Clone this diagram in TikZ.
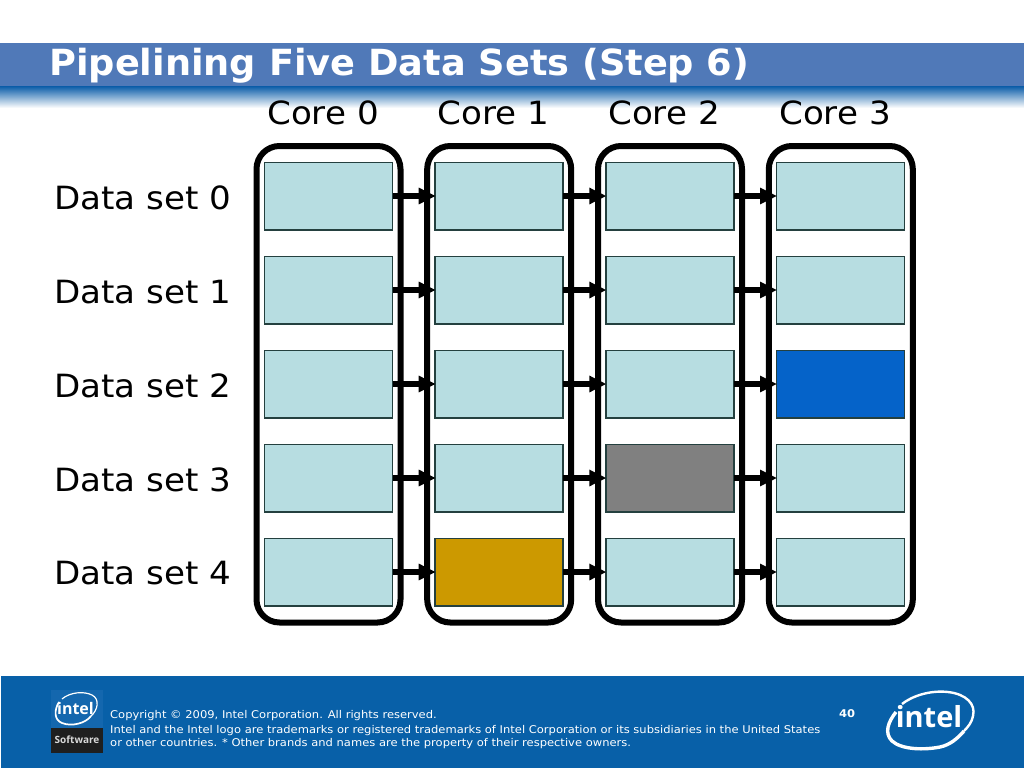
\documentclass[tikz,border=0pt]{standalone}
\usepackage{fontspec}
\setmainfont[FakeStretch=1.066]{DejaVu Sans}
\newfontfamily\titlefont[FakeStretch=1.02]{DejaVu Sans}
\newfontfamily\smallfont[FakeStretch=1.08]{DejaVu Sans}
\newfontfamily\logofont{Open Sans}
\usetikzlibrary{arrows.meta,calc}
\definecolor{hdr}{HTML}{5079B8}
\definecolor{hdrdark}{HTML}{0A5CA8}
\definecolor{foot}{HTML}{0860A8}
\definecolor{cell}{HTML}{B7DDE1}
\definecolor{cellblue}{HTML}{0563C9}
\definecolor{cellgray}{HTML}{808080}
\definecolor{cellgold}{HTML}{CC9900}
\definecolor{cellline}{HTML}{24403F}
\definecolor{softblue}{HTML}{1467AE}
\tikzset{
  x=1pt,y=-1pt,
  cellbox/.style={draw=cellline,line width=1.5pt,fill=cell,minimum width=128pt,minimum height=67.5pt,inner sep=0pt,outer sep=0pt},
  coreframe/.style={draw=black,line width=6pt,rounded corners=23pt},
  flow/.style={line width=5.5pt,yshift=-0.6pt,-{Triangle[length=17pt,width=15.5pt]},shorten >=-0.5pt},
  corelabel/.style={font=\fontsize{32}{32}\selectfont,anchor=base,inner sep=0pt},
  rowlabel/.style={font=\fontsize{32}{32}\selectfont,anchor=base west,inner sep=0pt},
  smalltext/.style={font=\smallfont\fontsize{10.67}{10.67}\selectfont,text=white,anchor=base west,inner sep=0pt},
}
\begin{document}
\begin{tikzpicture}
\useasboundingbox (0,0) rectangle (1024,768);
\fill[white] (0,0) rectangle (1024,768);
% header
\fill[hdr] (0,43) rectangle (1024,86);
\shade[top color=hdrdark,bottom color=white] (0,86) rectangle (1024,108);
\node[font=\titlefont\fontsize{36}{36}\selectfont\bfseries,text=white,anchor=base west,inner sep=0pt] (title) at (49,75) {Pipelining Five Data Sets (Step 6)};
% core frames
\foreach \i/\xl in {0/256.5,1/427.2,2/598,3/768.8}{
  \draw[coreframe] (\xl,146) rectangle (\xl+144,622.5) ;
}
% core labels
\node[corelabel] (c0) at (323,124) {Core 0};
\node[corelabel] (c1) at (493.5,124) {Core 1};
\node[corelabel] (c2) at (664,124) {Core 2};
\node[corelabel] (c3) at (835,124) {Core 3};
% row labels
\foreach \j/\yb in {0/209,1/303,2/397,3/491,4/584}{
  \node[rowlabel] (d\j) at (54,\yb) {Data set \j};
}
% cells
\foreach \i/\xc in {0/328.5,1/499.2,2/669.9,3/840.6}{
  \foreach \j/\yc in {0/196,1/290,2/384,3/478,4/572}{
    \node[cellbox] (b\i\j) at (\xc,\yc) {};
  }
}
\node[cellbox,fill=cellblue] at (b32) {};
\node[cellbox,fill=cellgray] at (b23) {};
\node[cellbox,fill=cellgold] at (b14) {};
% arrows
\foreach \j in {0,...,4}{
  \draw[flow] (b0\j.east) -- (b1\j.west);
  \draw[flow] (b1\j.east) -- (b2\j.west);
  \draw[flow] (b2\j.east) -- (b3\j.west);
}
% footer
\fill[foot] (1,676) rectangle (1024,768);
\node[smalltext] (l1) at (110,718) {Copyright © 2009, Intel Corporation. All rights reserved.};
\node[smalltext] (l2) at (110,733) {Intel and the Intel logo are trademarks or registered trademarks of Intel Corporation or its subsidiaries in the United States};
\node[smalltext] (l3) at (110,746) {or other countries. * Other brands and names are the property of their respective owners.};
\node[smalltext,font=\smallfont\fontsize{10.67}{10.67}\selectfont\bfseries] (pg) at (839,717) {40};
% software logo
\fill[softblue] (51,690) rectangle (103,728);
\fill[black!88] (51,728) rectangle (103,753);
\node[font=\logofont\fontsize{16}{16}\selectfont\bfseries,text=white,inner sep=0pt] (slogo) at (75.5,708) {intel};
\draw[white,line width=1.2pt] (62,699) .. controls (70,692) and (84,691) .. (92,695) .. controls (100,699) and (98,710) .. (91,716);
\draw[white,line width=1.7pt] (59,702) .. controls (54,710) and (54,720) .. (62,723) .. controls (72,727) and (86,723) .. (91,716);
\node[font=\logofont\fontsize{10}{10}\selectfont\bfseries,text=white!85!black,inner sep=0pt] (soft) at (77,740) {Software};
% intel logo
\node[font=\logofont\fontsize{29}{29}\selectfont\bfseries,text=white,inner sep=0pt] (ilogo) at (929,717) {intel};
\draw[white,line width=2.4pt] (902,704) .. controls (912,696) and (930,690) .. (948,692) .. controls (966,694) and (976,704) .. (973,716) .. controls (972,722) and (968,727) .. (964,731);
\draw[white,line width=3.4pt] (896,712) .. controls (888,722) and (884,733) .. (892,741) .. controls (902,750) and (925,750) .. (940,747) .. controls (950,745) and (958,738) .. (964,731);
\end{tikzpicture}
\end{document}
